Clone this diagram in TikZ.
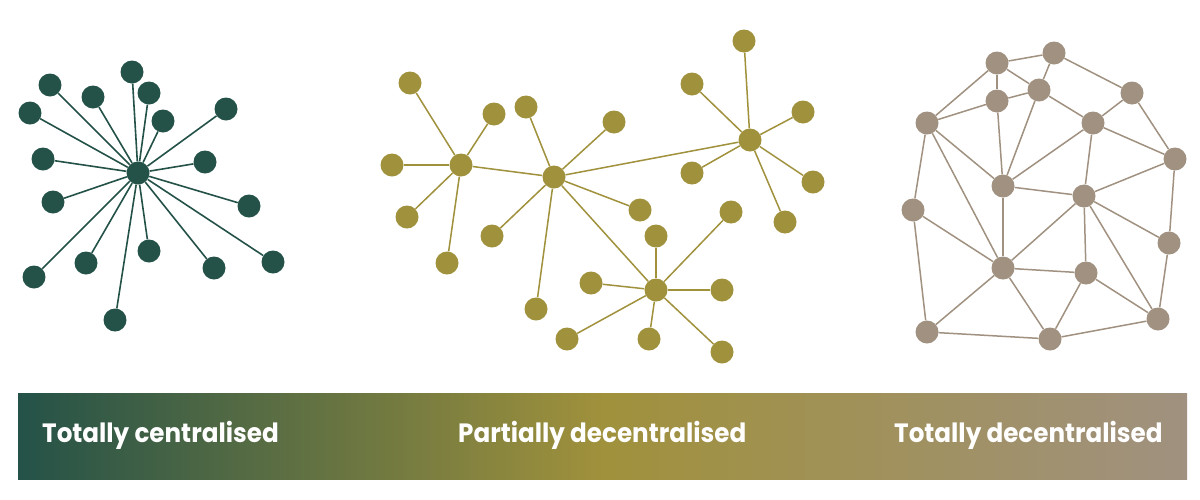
\documentclass[tikz,border=0pt]{standalone}
\usepackage{fontspec}
\setmainfont{Poppins}
\newfontfamily\labelfont{Poppins}[UprightFont=* Bold,FakeStretch=0.93]
\definecolor{dgreen}{HTML}{245248}
\definecolor{olive}{HTML}{A0913C}
\definecolor{taupe}{HTML}{A09180}
\begin{document}
\begin{tikzpicture}[x=1pt,y=-1pt,
  gnode/.style={circle,fill=dgreen,minimum size=23pt,inner sep=0pt},
  onode/.style={circle,fill=olive,minimum size=23pt,inner sep=0pt},
  tnode/.style={circle,fill=taupe,minimum size=23pt,inner sep=0pt},
  gedge/.style={draw=dgreen,line width=1.6pt},
  oedge/.style={draw=olive,line width=1.5pt},
  tedge/.style={draw=taupe,line width=1.5pt},
  lbl/.style={anchor=base west,inner sep=0pt,text=white,font=\labelfont\fontsize{26.5}{30}\selectfont}]
\useasboundingbox (0,0) rectangle (1200,499);
% ---------- centralised ----------
\node[gnode] (G0) at (138,173) {};
\node[gnode] (G1) at (132,72) {};
\node[gnode] (G2) at (50,85) {};
\node[gnode] (G3) at (93,97) {};
\node[gnode] (G4) at (149,93) {};
\node[gnode] (G5) at (30,113) {};
\node[gnode] (G6) at (163,121) {};
\node[gnode] (G7) at (226,109) {};
\node[gnode] (G8) at (43,159) {};
\node[gnode] (G9) at (205,162) {};
\node[gnode] (G10) at (53,202) {};
\node[gnode] (G11) at (249,206) {};
\node[gnode] (G12) at (149,251) {};
\node[gnode] (G13) at (86,263) {};
\node[gnode] (G14) at (34,277) {};
\node[gnode] (G15) at (214,268) {};
\node[gnode] (G16) at (273,262) {};
\node[gnode] (G17) at (115,320) {};
\foreach \i in {1,...,17}{\path[gedge] (G0) -- (G\i);}
% ---------- partially decentralised ----------
\node[onode] (H1) at (461,165) {};
\node[onode] (H2) at (554,177) {};
\node[onode] (H3) at (750,140) {};
\node[onode] (H4) at (656,290) {};
\node[onode] (a1) at (410,83) {};
\node[onode] (a2) at (494,114) {};
\node[onode] (a3) at (392,165) {};
\node[onode] (a4) at (407,217) {};
\node[onode] (a5) at (447,263) {};
\node[onode] (b1) at (526,107) {};
\node[onode] (b2) at (614,122) {};
\node[onode] (b3) at (640,210) {};
\node[onode] (b4) at (492,236) {};
\node[onode] (b5) at (536,309) {};
\node[onode] (c1) at (744,41) {};
\node[onode] (c2) at (692,84) {};
\node[onode] (c3) at (803,112) {};
\node[onode] (c4) at (692,173) {};
\node[onode] (c5) at (813,182) {};
\node[onode] (c6) at (785,222) {};
\node[onode] (d1) at (656,236) {};
\node[onode] (d2) at (731,212) {};
\node[onode] (d3) at (591,283) {};
\node[onode] (d4) at (722,290) {};
\node[onode] (d5) at (567,339) {};
\node[onode] (d6) at (649,339) {};
\node[onode] (d7) at (722,352) {};
\foreach \a/\b in {H1/H2,H2/H3,H2/H4,H1/a1,H1/a2,H1/a3,H1/a4,H1/a5,H2/b1,H2/b2,H2/b3,H2/b4,H2/b5,H3/c1,H3/c2,H3/c3,H3/c4,H3/c5,H3/c6,H4/d1,H4/d2,H4/d3,H4/d4,H4/d5,H4/d6,H4/d7}{
  \path[oedge] (\a) -- (\b);
}
% ---------- totally decentralised ----------
\node[tnode] (A) at (997,63) {};
\node[tnode] (B) at (1054,53) {};
\node[tnode] (C) at (997,101) {};
\node[tnode] (D) at (1039,90) {};
\node[tnode] (E) at (1132,93) {};
\node[tnode] (F) at (927,123) {};
\node[tnode] (G) at (1093,123) {};
\node[tnode] (H) at (1175,159) {};
\node[tnode] (I) at (1003,186) {};
\node[tnode] (J) at (1084,196) {};
\node[tnode] (K) at (913,210) {};
\node[tnode] (L) at (1169,243) {};
\node[tnode] (M) at (1003,268) {};
\node[tnode] (N) at (1086,273) {};
\node[tnode] (O) at (927,332) {};
\node[tnode] (P) at (1050,339) {};
\node[tnode] (Q) at (1158,319) {};
\foreach \a/\b in {A/B,A/C,A/D,A/F,B/D,B/E,C/D,C/F,C/I,D/G,D/I,E/G,E/H,F/I,F/K,F/M,G/H,G/I,G/J,H/J,H/L,I/J,I/M,J/M,J/N,J/L,J/Q,K/M,K/O,L/Q,M/N,M/O,M/P,N/P,N/Q,O/P,P/Q}{
  \path[tedge] (\a) -- (\b);
}
% ---------- gradient bar ----------
\shade[left color=dgreen,right color=taupe,middle color=olive] (18,393) rectangle (1187,479);
\node[lbl] (t1) at (42,442) {Totally centralised};
\node[lbl] (t2) at (458,442) {Partially decentralised};
\node[lbl] (t3) at (894,442) {Totally decentralised};
\end{tikzpicture}
\end{document}
